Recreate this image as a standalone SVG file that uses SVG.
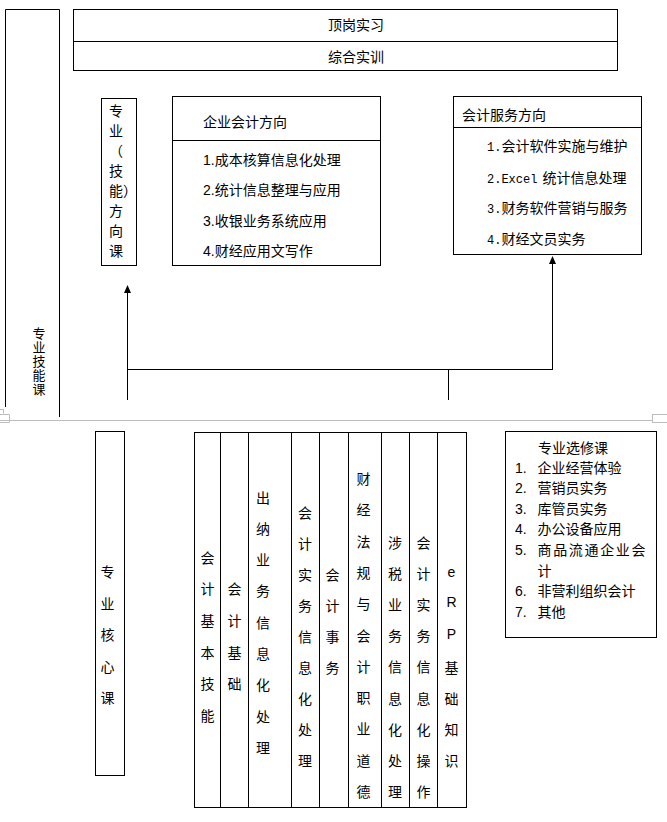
<svg xmlns="http://www.w3.org/2000/svg" width="667" height="822" viewBox="0 0 667 822">
<defs>
<style>
.b{fill:none;stroke:#000;stroke-width:1}
.t{font-family:"Noto Sans CJK SC","Noto Sans CJK TC",sans-serif;font-size:14px;fill:#000}
.m{font-family:"Liberation Mono",monospace;font-size:12px}
.l{font-family:"Liberation Sans",Arial,sans-serif}
.c{text-anchor:middle}
.g{fill:none;stroke:#bdbdbd;stroke-width:1}
</style>
<marker id="ah" viewBox="0 0 8 7" refX="0" refY="3.5" markerWidth="8" markerHeight="7" markerUnits="userSpaceOnUse" orient="auto">
<path d="M0,0 L8,3.5 L0,7 Z" fill="#000"/>
</marker>
</defs>
<rect width="667" height="822" fill="#fff"/>

<g id="page-break">
<line class="g" x1="0" y1="420.5" x2="652" y2="420.5"/>
<rect class="g" x="652.5" y="414.5" width="15" height="8"/>
<path class="g" d="M0,409.5 H3.5 V413.5 M-1,414.5 H9.5 V422.5 H-1"/>
</g>

<g id="n-zhuanye-jineng-ke">
<path class="b" d="M5.5,407 V9.5 H59.5 V417"/>
<text class="t" x="39" y="327" writing-mode="vertical-rl" style="font-size:13px;letter-spacing:1px">专业技能课</text>
</g>

<g id="n-dinggang">
<rect class="b" x="73.5" y="9.5" width="544" height="32"/>
<text class="t" x="328" y="29.5">顶岗实习</text>
</g>
<g id="n-zonghe">
<rect class="b" x="73.5" y="41.5" width="544" height="29"/>
<text class="t" x="328" y="62">综合实训</text>
</g>

<g id="n-fangxiang-ke">
<rect class="b" x="101.5" y="98.5" width="35" height="167"/>
<text class="t"><tspan x="109" y="115.5">专</tspan><tspan x="109" y="135.5">业</tspan><tspan x="109" y="155.5">（</tspan><tspan x="109" y="175.5">技</tspan><tspan x="109" y="195.5">能）</tspan><tspan x="109" y="215.5">方</tspan><tspan x="109" y="235.5">向</tspan><tspan x="109" y="255.5">课</tspan></text>
</g>

<g id="n-qiye">
<rect class="b" x="172.5" y="96.5" width="208" height="169"/>
<line class="b" x1="172.5" y1="140.5" x2="380.5" y2="140.5"/>
<text class="t" x="203" y="126.5">企业会计方向</text>
<text class="t" x="203" y="164.5"><tspan class="l">1.</tspan>成本核算信息化处理</text>
<text class="t" x="203" y="194.5"><tspan class="l">2.</tspan>统计信息整理与应用</text>
<text class="t" x="203" y="225.5"><tspan class="l">3.</tspan>收银业务系统应用</text>
<text class="t" x="203" y="255.5"><tspan class="l">4.</tspan>财经应用文写作</text>
</g>

<g id="n-fuwu">
<rect class="b" x="453.5" y="96.5" width="188" height="158"/>
<line class="b" x1="453.5" y1="127.5" x2="641.5" y2="127.5"/>
<text class="t" x="462" y="119.5">会计服务方向</text>
<text class="t" x="487" y="151"><tspan class="m">1.</tspan>会计软件实施与维护</text>
<text class="t" x="487" y="182.5"><tspan class="m">2.Excel</tspan><tspan dx="5">统计信息处理</tspan></text>
<text class="t" x="487" y="213"><tspan class="m">3.</tspan>财务软件营销与服务</text>
<text class="t" x="487" y="244"><tspan class="m">4.</tspan>财经文员实务</text>
</g>

<g id="connectors">
<line class="b" x1="127.5" y1="400" x2="127.5" y2="293" marker-end="url(#ah)"/>
<line class="b" x1="127.5" y1="369.5" x2="553" y2="369.5"/>
<line class="b" x1="448.5" y1="369.5" x2="448.5" y2="400"/>
<line class="b" x1="552.5" y1="369.5" x2="552.5" y2="264" stroke="#333" marker-end="url(#ah)"/>
</g>

<g id="n-hexin-ke">
<rect class="b" x="95.5" y="431.5" width="29" height="344"/>
<text class="t c"><tspan x="107.5" y="577">专</tspan><tspan x="107.5" y="609">业</tspan><tspan x="107.5" y="640">核</tspan><tspan x="107.5" y="672">心</tspan><tspan x="107.5" y="703">课</tspan></text>
</g>

<g id="n-core-table">
<rect class="b" x="194.5" y="432.5" width="272" height="375"/>
<path class="b" d="M220.5,432.5 V807.5 M248.5,432.5 V807.5 M291.5,432.5 V807.5 M319.5,432.5 V807.5 M348.5,432.5 V807.5 M381.5,432.5 V807.5 M409.5,432.5 V807.5 M437.5,432.5 V807.5"/>
</g>
<g id="n-c1">
<text class="t c"><tspan x="207.5" y="562.5">会</tspan><tspan x="207.5" y="594.2">计</tspan><tspan x="207.5" y="625.9">基</tspan><tspan x="207.5" y="657.6">本</tspan><tspan x="207.5" y="689.3">技</tspan><tspan x="207.5" y="721">能</tspan></text>
</g>
<g id="n-c2">
<text class="t c"><tspan x="234.5" y="594.2">会</tspan><tspan x="234.5" y="625.9">计</tspan><tspan x="234.5" y="657.6">基</tspan><tspan x="234.5" y="689.3">础</tspan></text>
</g>
<g id="n-c3">
<text class="t c"><tspan x="263" y="502.5">出</tspan><tspan x="263" y="533.8">纳</tspan><tspan x="263" y="565.1">业</tspan><tspan x="263" y="596.4">务</tspan><tspan x="263" y="627.7">信</tspan><tspan x="263" y="659">息</tspan><tspan x="263" y="690.3">化</tspan><tspan x="263" y="721.6">处</tspan><tspan x="263" y="752.9">理</tspan></text>
</g>
<g id="n-c4">
<text class="t c"><tspan x="305" y="517.5">会</tspan><tspan x="305" y="548.6">计</tspan><tspan x="305" y="579.7">实</tspan><tspan x="305" y="610.8">务</tspan><tspan x="305" y="641.9">信</tspan><tspan x="305" y="673">息</tspan><tspan x="305" y="704.1">化</tspan><tspan x="305" y="735.2">处</tspan><tspan x="305" y="766.3">理</tspan></text>
</g>
<g id="n-c5">
<text class="t c"><tspan x="332.5" y="579.5">会</tspan><tspan x="332.5" y="610.6">计</tspan><tspan x="332.5" y="641.7">事</tspan><tspan x="332.5" y="672.8">务</tspan></text>
</g>
<g id="n-c6">
<text class="t c"><tspan x="363.5" y="484">财</tspan><tspan x="363.5" y="515.3">经</tspan><tspan x="363.5" y="546.6">法</tspan><tspan x="363.5" y="577.9">规</tspan><tspan x="363.5" y="609.2">与</tspan><tspan x="363.5" y="640.5">会</tspan><tspan x="363.5" y="671.8">计</tspan><tspan x="363.5" y="703.1">职</tspan><tspan x="363.5" y="734.4">业</tspan><tspan x="363.5" y="765.7">道</tspan><tspan x="363.5" y="797">德</tspan></text>
</g>
<g id="n-c7">
<text class="t c"><tspan x="395" y="547.5">涉</tspan><tspan x="395" y="578.7">税</tspan><tspan x="395" y="609.9">业</tspan><tspan x="395" y="641.1">务</tspan><tspan x="395" y="672.3">信</tspan><tspan x="395" y="703.5">息</tspan><tspan x="395" y="734.7">化</tspan><tspan x="395" y="765.9">处</tspan><tspan x="395" y="797.1">理</tspan></text>
</g>
<g id="n-c8">
<text class="t c"><tspan x="423.5" y="547.5">会</tspan><tspan x="423.5" y="578.7">计</tspan><tspan x="423.5" y="609.9">实</tspan><tspan x="423.5" y="641.1">务</tspan><tspan x="423.5" y="672.3">信</tspan><tspan x="423.5" y="703.5">息</tspan><tspan x="423.5" y="734.7">化</tspan><tspan x="423.5" y="765.9">操</tspan><tspan x="423.5" y="797.1">作</tspan></text>
</g>
<g id="n-c9">
<text class="t c"><tspan class="l" x="451.5" y="576.5">e</tspan><tspan class="l" x="451.5" y="607">R</tspan><tspan class="l" x="451.5" y="638.5">P</tspan><tspan x="451.5" y="672.5">基</tspan><tspan x="451.5" y="704">础</tspan><tspan x="451.5" y="735">知</tspan><tspan x="451.5" y="766">识</tspan></text>
</g>

<g id="n-xuanxiu">
<rect class="b" x="505.5" y="431.5" width="151" height="206"/>
<text class="t" x="538" y="452.5">专业选修课</text>
<text class="t l" x="515" y="472.5">1.</text><text class="t" x="537.5" y="472.5">企业经营体验</text>
<text class="t l" x="515" y="493">2.</text><text class="t" x="537.5" y="493">营销员实务</text>
<text class="t l" x="515" y="513.5">3.</text><text class="t" x="537.5" y="513.5">库管员实务</text>
<text class="t l" x="515" y="534">4.</text><text class="t" x="537.5" y="534">办公设备应用</text>
<text class="t l" x="515" y="554.5">5.</text><text class="t" x="537.5" y="554.5" textLength="108" lengthAdjust="spacing">商品流通企业会</text>
<text class="t" x="537.5" y="575.5">计</text>
<text class="t l" x="515" y="596">6.</text><text class="t" x="537.5" y="596">非营利组织会计</text>
<text class="t l" x="515" y="617">7.</text><text class="t" x="537.5" y="617">其他</text>
</g>
</svg>
